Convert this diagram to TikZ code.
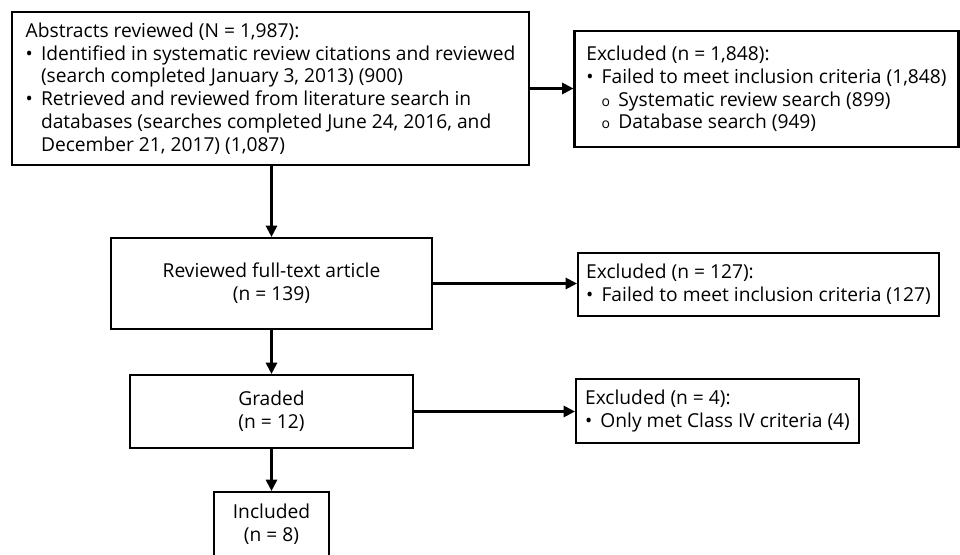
\documentclass[tikz,border=0pt]{standalone}
\usepackage{fontspec}
\setmainfont{Open Sans}
\usetikzlibrary{arrows.meta}

\newcommand{\bul}{\makebox[11.5pt][l]{\textbullet}}
\newcommand{\hang}{\hspace*{11.5pt}}
\newcommand{\subbul}{\hang\makebox[12.5pt][l]{\fontsize{10.5}{12}\selectfont o}}

\begin{document}
\begin{tikzpicture}[x=0.75pt,y=-0.75pt,
		box/.style={draw, line width=1.6pt, inner sep=0pt, font=\fontsize{14.4}{17.1}\selectfont},
		lbox/.style={box, align=left},
		cbox/.style={box, align=center},
		arr/.style={line width=1.6pt, -{Triangle[length=8.5pt,width=8.5pt]}}]
		\useasboundingbox (0,0) rectangle (960,555);
		
		% main column
		\node [lbox, minimum width=387.75pt, minimum height=114.75pt] (abstracts) at (270.5,88.5)
		{Abstracts reviewed (N = 1,987):\\
			\bul Identified in systematic review citations and reviewed\\
			\hang (search completed January 3, 2013) (900)\\
			\bul Retrieved and reviewed from literature search in\\
			\hang databases (searches completed June 24, 2016, and\\
			\hang December 21, 2017) (1,087)};
		\node [cbox, minimum width=240.75pt, minimum height=68.25pt] (fulltext) at (271.5,283.5)
		{Reviewed full-text article\\(n = 139)};
		\node [cbox, minimum width=212.25pt, minimum height=54.75pt] (graded) at (271.5,411.5)
		{Graded\\(n = 12)};
		\node [cbox, minimum width=86.25pt, minimum height=48.75pt] (included) at (271.5,524.5)
		{Included\\(n = 8)};
		
		% exclusions
		\node [lbox, minimum width=288pt, minimum height=87pt] (excl1) at (766.5,89)
		{Excluded (n = 1,848):\\
			\bul Failed to meet inclusion criteria (1,848)\\
			\subbul Systematic review search (899)\\
			\subbul Database search (949)};
		\node [lbox, minimum width=270.75pt, minimum height=47.25pt] (excl2) at (758.5,284.5)
		{Excluded (n = 127):\\
			\bul Failed to meet inclusion criteria (127)};
		\node [lbox, minimum width=212.25pt, minimum height=48pt] (excl3) at (717.5,411)
		{Excluded (n = 4):\\
			\bul Only met Class IV criteria (4)};
		
		\draw [arr] (abstracts.south -| fulltext.north) -- (fulltext.north);
		\draw [arr] (fulltext.south) -- (graded.north);
		\draw [arr] (graded.south) -- (included.north);
		
		\draw [arr] (abstracts.east) -- (abstracts.east -| excl1.west);
		\draw [arr] (fulltext.east) -- (fulltext.east -| excl2.west);
		\draw [arr] (graded.east) -- (graded.east -| excl3.west);
	\end{tikzpicture}
\end{document}
